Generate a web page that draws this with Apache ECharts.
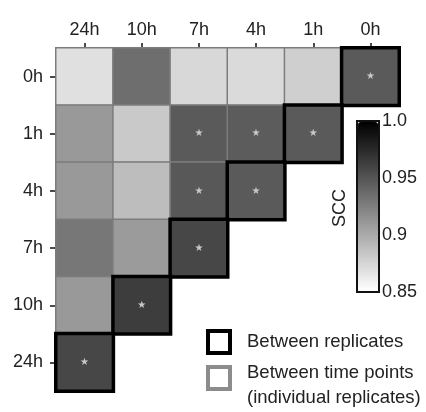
<!DOCTYPE html>
<html>
<head>
<meta charset="utf-8">
<script src="https://cdn.jsdelivr.net/npm/echarts@6/dist/echarts.min.js"></script>
<style>
html,body{margin:0;padding:0;background:#fff;}
#c{width:426px;height:412px;}
</style>
</head>
<body>
<div id="c"></div>
<script>
// Column (top) and row (left) categories
const cols = ['24h', '10h', '7h', '4h', '1h', '0h'];
const rows = ['0h', '1h', '4h', '7h', '10h', '24h'];
// SCC values per row, in column order starting from 24h
const scc_0h  = [0.868, 0.935, 0.873, 0.872, 0.878, 0.947];
const scc_1h  = [0.910, 0.882, 0.947, 0.946, 0.947];
const scc_4h  = [0.910, 0.889, 0.948, 0.947];
const scc_7h  = [0.930, 0.909, 0.958];
const scc_10h = [0.910, 0.964];
const scc_24h = [0.958];
// significant pairs (row, column) marked with a star
const starred = [['0h','0h'],['1h','7h'],['1h','4h'],['1h','1h'],['4h','7h'],['4h','4h'],['7h','7h'],['10h','10h'],['24h','24h']];
// colour scale ticks
const sccTicks = [0.85, 0.9, 0.95, 1.0];

const rowVals = [scc_0h, scc_1h, scc_4h, scc_7h, scc_10h, scc_24h];
const normal = [], diag = [];
const isStar = (r, c) => starred.some(p => p[0] === r && p[1] === c);
rowVals.forEach((vals, ri) => {
  vals.forEach((v, ci) => {
    const item = {value: [ci, ri, v]};
    if (isStar(rows[ri], cols[ci])) {
      item.label = {show: true};
    }
    if (rows[ri] === cols[ci]) diag.push(item); else normal.push(item);
  });
});

const font = '"Liberation Sans", Arial, sans-serif';
const chart = echarts.init(document.getElementById('c'), null, {renderer: 'canvas'});
const starLabel = {show: false, formatter: '★', color: '#c8c8c8', fontSize: 10, fontFamily: 'DejaVu Sans'};
chart.setOption({
  animation: false,
  backgroundColor: '#fff',
  grid: [
    {left: 56, top: 48, width: 343, height: 343},
    {left: 357, top: 121, width: 22, height: 171, show: true, borderColor: '#111', borderWidth: 2, backgroundColor: 'transparent', z: 10}
  ],
  xAxis: [
    {type: 'category', gridIndex: 0, data: cols, position: 'top',
     axisLine: {show: true, lineStyle: {color: '#111', width: 1.5}},
     axisTick: {show: true, alignWithLabel: true, length: 5, lineStyle: {color: '#111', width: 1.5}},
     axisLabel: {fontSize: 18, color: '#222', fontFamily: font, margin: 9},
     splitLine: {show: false}},
    {type: 'value', gridIndex: 1, show: false, min: 0, max: 1}
  ],
  yAxis: [
    {type: 'category', gridIndex: 0, data: rows, inverse: true,
     axisLine: {show: true, lineStyle: {color: '#111', width: 1.5}},
     axisTick: {show: true, alignWithLabel: true, length: 6, lineStyle: {color: '#111', width: 1.5}},
     axisLabel: {fontSize: 18, color: '#222', fontFamily: font, margin: 13},
     splitLine: {show: false}},
    {type: 'value', gridIndex: 1, position: 'right', min: 0.85, max: 1.0, interval: 0.05,
     axisLine: {show: false},
     axisTick: {show: true, length: 4, lineStyle: {color: '#111', width: 1.5}},
     axisLabel: {fontSize: 18, color: '#222', fontFamily: font, margin: 3,
       formatter: v => (v > 0.999 ? '1.0' : String(parseFloat(v.toFixed(2))))},
     splitLine: {show: false}}
  ],
  visualMap: {
    type: 'continuous', min: 0.85, max: 1.0, seriesIndex: [0, 1],
    show: true, calculable: false, left: 358, top: 122, itemWidth: 20, itemHeight: 169,
    padding: 0, text: null, showLabel: false, hoverLink: false,
    inRange: {color: ['#ffffff', '#000000']}
  },
  series: [
    {type: 'heatmap', xAxisIndex: 0, yAxisIndex: 0, data: normal, z: 2,
     itemStyle: {borderColor: '#7c7c7c', borderWidth: 1.5},
     label: starLabel, emphasis: {disabled: true}},
    {type: 'heatmap', xAxisIndex: 0, yAxisIndex: 0, data: diag, z: 3,
     itemStyle: {borderColor: '#000', borderWidth: 3.5},
     label: starLabel, emphasis: {disabled: true}}
  ],
  graphic: [
    {type: 'text', x: 340, y: 208, rotation: Math.PI / 2,
     style: {text: 'SCC', fill: '#222', font: '18px ' + font, align: 'center', verticalAlign: 'middle'}},
    {type: 'rect', shape: {x: 208, y: 331, width: 22, height: 22},
     style: {fill: '#fff', stroke: '#000', lineWidth: 4}},
    {type: 'rect', shape: {x: 208, y: 367, width: 22, height: 22},
     style: {fill: '#fff', stroke: '#8c8c8c', lineWidth: 4}},
    {type: 'text', x: 247, y: 342,
     style: {text: 'Between replicates', fill: '#222', font: '18.5px ' + font, verticalAlign: 'middle'}},
    {type: 'text', x: 247, y: 373,
     style: {text: 'Between time points', fill: '#222', font: '18.5px ' + font, verticalAlign: 'middle'}},
    {type: 'text', x: 247, y: 398,
     style: {text: '(individual replicates)', fill: '#222', font: '18.5px ' + font, verticalAlign: 'middle'}}
  ]
});
</script>
</body>
</html>
